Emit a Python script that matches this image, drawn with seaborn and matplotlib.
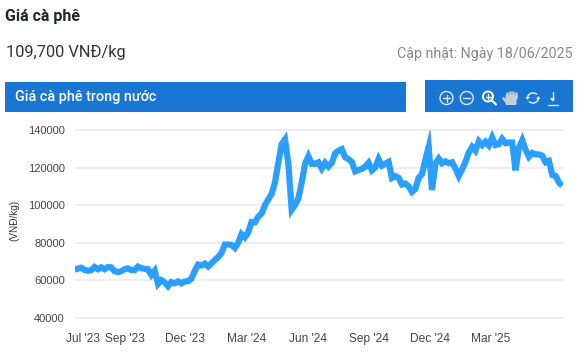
import matplotlib
matplotlib.use("Agg")
import matplotlib.pyplot as plt
import matplotlib.patches as mp
import pandas as pd
import seaborn as sns

# prices, one every 5 days from 18 Jun 2023
prices = [
    65500, 66200, 66600, 65500, 65000, 65300, 67000, 65800, 66800, 65800,
    67000, 66800, 64800, 64300, 64800, 65800, 66200, 65400, 65300, 67200,
    66400, 66000, 65800, 62800, 65000, 58000, 60000, 58800, 56800, 59000,
    58300, 59300, 58300, 59300, 59500, 60800, 65000, 68300, 67800, 68800,
    67300, 69000, 70800, 72300, 74500, 79000, 79000, 78800, 77200, 80000,
    84500, 82800, 85500, 91000, 90800, 93800, 95500, 100000, 103000, 106000,
    112000, 122500, 132500, 135000, 122000, 97500, 100000, 103500, 112000, 122000,
    126000, 122000, 122000, 122800, 119500, 122500, 120500, 122500, 127500, 129000,
    129800, 125500, 124500, 123000, 118000, 118700, 119300, 120500, 122500, 118500,
    120000, 124500, 121000, 122000, 123000, 114500, 115500, 114500, 111000, 111500,
    110000, 107000, 108500, 114500, 116500, 124000, 131000, 108000, 122000, 124800,
    122300, 123300, 122300, 122800, 119500, 115500, 119000, 123000, 128000, 131000,
    129000, 134000, 132000, 133800, 131800, 136000, 132000, 132500, 135300, 133000,
    133300, 133300, 118500, 130500, 134500, 129500, 125800, 127800, 127000, 127000,
    126300, 122800, 123500, 116000, 115500, 112000, 110300,
]
dates = pd.date_range("2023-06-18", periods=len(prices), freq="5D")

y_ticks = [40000, 60000, 80000, 100000, 120000, 140000]
x_ticks = ["2023-07-01", "2023-09-01", "2023-12-01", "2024-03-01", "2024-06-01",
           "2024-09-01", "2024-12-01", "2025-03-01"]
x_labels = ["Jul '23", "Sep '23", "Dec '23", "Mar '24", "Jun '24", "Sep '24", "Dec '24", "Mar '25"]

W, H = 585, 362
BLUE = "#1976d2"

sns.set_style("white")
plt.rcParams["font.family"] = ["Roboto", "DejaVu Sans"]

fig = plt.figure(figsize=(W / 100, H / 100), dpi=100)

# overlay in pixel coordinates for the page furniture
bg = fig.add_axes([0, 0, 1, 1])
bg.set_xlim(0, W)
bg.set_ylim(H, 0)
bg.axis("off")
bg.text(5, 16, "Giá cà phê", fontsize=11.5, fontweight="bold", color="#212529", va="center")
bg.text(5.5, 52, "109,700 VNĐ/kg", fontsize=11.8, color="#333333", va="center")
bg.text(572.5, 54, "Cập nhật: Ngày 18/06/2025", fontsize=10.25, color="#888888", va="center", ha="right")
bg.add_patch(mp.Rectangle((5, 82), 401, 30, color=BLUE, lw=0))
bg.add_patch(mp.Rectangle((425, 80), 148, 32, color=BLUE, lw=0))
bg.text(15, 96.5, "Giá cà phê trong nước", fontsize=10.35, fontweight="medium", color="white", va="center")
bg.text(14, 220.5, "(VNĐ/kg)", fontsize=7.2, rotation=90, family="Liberation Sans",
        color="#333333", va="center", ha="center")

# toolbar icons
ICON = "#dfeaf6"
def stroke(xs, ys, lw=1.0, c=ICON):
    bg.plot(xs, ys, color=c, lw=lw, solid_capstyle="round")

for cx in (446.5, 466.7):
    bg.add_patch(mp.Circle((cx, 98), 6.5, fill=False, ec=ICON, lw=1.0))
    stroke([cx - 3.5, cx + 3.5], [98, 98])
stroke([446.5, 446.5], [94.5, 101.5])
bg.add_patch(mp.Circle((488, 96.5), 5, fill=False, ec="white", lw=1.4))
stroke([491.5, 496], [100, 104.5], lw=1.6, c="white")
stroke([485.5, 490.5], [96.5, 96.5], c="white")
stroke([488, 488], [94, 99], c="white")
# hand
hand = "#c9ced4"
bg.add_patch(mp.FancyBboxPatch((506.5, 96), 9, 8, boxstyle="round,pad=1", color=hand, lw=0))
for hx, top in ((507, 93), (510, 91.5), (513, 91.5), (516, 93)):
    stroke([hx, hx], [top, 98], lw=1.8, c=hand)
stroke([503.5, 506.5], [98.5, 102], lw=1.8, c=hand)
# refresh
bg.add_patch(mp.Arc((533, 98), 11, 10, theta1=190, theta2=320, ec=ICON, lw=1.1))
bg.add_patch(mp.Arc((533, 98), 11, 10, theta1=10, theta2=140, ec=ICON, lw=1.1))
bg.add_patch(mp.Polygon([(525.5, 97), (530, 97), (527.5, 100)], color=ICON, lw=0))
bg.add_patch(mp.Polygon([(536, 99), (540.5, 99), (538.5, 96)], color=ICON, lw=0))
# download
stroke([552.5, 552.5], [92, 100])
bg.add_patch(mp.Polygon([(550, 98), (555, 98), (552.5, 101.5)], color=ICON, lw=0))
stroke([547.5, 557.5], [104.5, 104.5])

# chart area
left, right, top, bottom = 74.5, 563, 130, 317.7
ax = fig.add_axes([left / W, 1 - bottom / H, (right - left) / W, (bottom - top) / H])
ax.patch.set_alpha(0)
df = pd.DataFrame({"date": dates, "price": prices})
sns.lineplot(data=df, x="date", y="price", ax=ax, color="#2b9fff", linewidth=4.5,
             solid_joinstyle="miter", solid_capstyle="butt", zorder=3)
ax.set_xlim(pd.Timestamp("2023-06-18"), pd.Timestamp("2025-06-18"))
ax.set_ylim(40000, 140000)
ax.set_yticks(y_ticks)
ax.set_xticks(pd.to_datetime(x_ticks))
ax.set_xticklabels(x_labels)
ax.set_xlabel("")
ax.set_ylabel("")
ax.grid(axis="y", color="#e9e9e9", linewidth=1.1)
ax.grid(axis="x", visible=False)
sns.despine(ax=ax, left=True, bottom=True)
for s in ax.spines.values():
    s.set_visible(False)
for lab in ax.get_yticklabels():
    lab.set(family="Liberation Sans", fontsize=8.0, color="#444444")
for lab in ax.get_xticklabels():
    lab.set(family="Liberation Sans", fontsize=8.6, color="#444444")
ax.tick_params(axis="y", length=0, pad=7)
ax.tick_params(axis="x", length=0, pad=11)
for g in ax.get_ygridlines():
    g.set_clip_on(False)

fig.savefig("out.png", dpi=100)
plt.close()
